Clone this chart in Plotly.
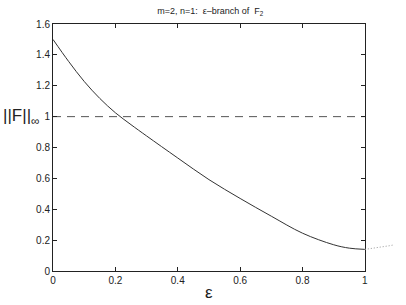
import plotly.graph_objects as go

eps = [0, 0.05, 0.1, 0.15, 0.2, 0.25, 0.3, 0.4, 0.5, 0.6, 0.7, 0.8, 0.9, 0.95, 1.0]
fnorm = [1.50, 1.358, 1.228, 1.118, 1.025, 0.948, 0.875, 0.732, 0.592, 0.470, 0.355, 0.245, 0.170, 0.148, 0.140]

eps_ext = [1.0, 1.02, 1.04, 1.06, 1.08, 1.09]
fnorm_ext = [0.140, 0.145, 0.151, 0.157, 0.164, 0.168]

xticks = [0, 0.2, 0.4, 0.6, 0.8, 1]
xticklabels = ["0", "0.2", "0.4", "0.6", "0.8", "1"]
yticks = [0, 0.2, 0.4, 0.6, 0.8, 1, 1.2, 1.4, 1.6]
yticklabels = ["0", "0.2", "0.4", "0.6", "0.8", "1", "1.2", "1.4", "1.6"]
ref_level = 1.0

W, H = 406, 305
ML, MR, MT, MB = 53, 6, 24, 34
axis_px = 314.6
plot_w = W - ML - MR
dom = axis_px / plot_w

fig = go.Figure()
fig.add_trace(go.Scatter(x=eps, y=fnorm, mode="lines", line=dict(color="#333333", width=1, shape="spline", smoothing=1),
                         showlegend=False, hoverinfo="skip"))
fig.add_trace(go.Scatter(x=[0, 1], y=[ref_level, ref_level], mode="lines",
                         line=dict(color="#555555", width=1, dash="8px,6px"), showlegend=False, hoverinfo="skip"))
fig.add_trace(go.Scatter(x=eps_ext, y=fnorm_ext, mode="lines", xaxis="x2", yaxis="y2",
                         line=dict(color="#999999", width=1, dash="1px,2px"),
                         showlegend=False, hoverinfo="skip"))

axis_common = dict(showgrid=False, zeroline=False, showline=True, linecolor="#222222", linewidth=1,
                   mirror="ticks", ticks="inside", ticklen=4, tickcolor="#222222",
                   tickfont=dict(family="Liberation Sans, Arial", size=10, color="#222222"))

fig.update_layout(
    xaxis=dict(range=[0, 1], domain=[0, dom], tickvals=xticks, ticktext=xticklabels, **axis_common),
    yaxis=dict(range=[0, 1.6], domain=[0, 1], tickvals=yticks, ticktext=yticklabels, **axis_common),
    xaxis2=dict(range=[0, 1 / dom], domain=[0, 1], anchor="y2", visible=False),
    yaxis2=dict(range=[0, 1.6], domain=[0, 1], anchor="x2", visible=False),
)

fig.update_layout(
    width=W, height=H,
    margin=dict(l=ML, r=MR, t=MT, b=MB),
    paper_bgcolor="white", plot_bgcolor="rgba(0,0,0,0)",
    title=dict(text="m=2, n=1:  ε–branch of  F<sub>2</sub>", x=(ML + axis_px / 2) / W, xanchor="center",
               y=0.975, yanchor="top",
               font=dict(family="Liberation Sans, Arial", size=9, color="#222222")),
    annotations=[
        dict(text="ε", xref="paper", yref="paper", x=dom / 2, y=-0.089, xanchor="center", yanchor="middle",
             showarrow=False, font=dict(family="Liberation Sans, Arial", size=17, color="#222222")),
        dict(text="||F||<sub>∞</sub>", xref="paper", yref="y", x=-11 / plot_w, y=ref_level, xanchor="right",
             yanchor="middle", showarrow=False, font=dict(family="Liberation Sans, Arial", size=17, color="#222222")),
    ],
)

fig.write_html("out.html", config={"displayModeBar": False},
               post_script="document.body.style.margin='0';document.body.style.overflow='hidden';")
